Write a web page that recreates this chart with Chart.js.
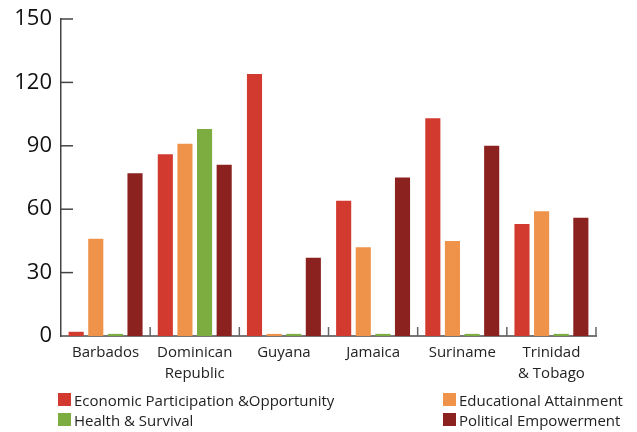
<!DOCTYPE html>
<html>
<head>
<meta charset="utf-8">
<script src="https://cdn.jsdelivr.net/npm/chart.js@4.4.1/dist/chart.umd.min.js"></script>
<style>
  body { margin: 0; background: #fff; }
  #wrap { position: relative; width: 637px; height: 432px; }
  .leg { position: absolute; font: 15px "Open Sans", sans-serif; color: #222; white-space: nowrap; line-height: 14px; }
  .leg span { display: inline-block; width: 13px; height: 13px; vertical-align: top; margin-right: 3px; }
</style>
</head>
<body>
<div id="wrap">
  <canvas id="c" width="637" height="432"></canvas>
</div>
<script>
// chart data
const countries = ["Barbados", ["Dominican", "Republic"], "Guyana", "Jamaica", "Suriname", ["Trinidad", "& Tobago"]];
const economic = [2, 86, 124, 64, 103, 53];
const educational = [46, 91, 1, 42, 45, 59];
const health = [1, 98, 1, 1, 1, 1];
const political = [77, 81, 37, 75, 90, 56];
const yTicks = [0, 30, 60, 90, 120, 150];

const seriesNames = ["Economic Participation &Opportunity", "Educational Attainment", "Health & Survival", "Political Empowerment"];
const colors = ["#d33a2f", "#ef934a", "#7dac41", "#8b221f"];

// little inward tick marks like the original
const innerTicks = {
  id: "innerTicks",
  afterDraw(chart) {
    const ctx = chart.ctx;
    const x = chart.scales.x, y = chart.scales.y;
    const area = chart.chartArea;
    ctx.save();
    ctx.strokeStyle = "#444";
    ctx.lineWidth = 1.5;
    yTicks.slice(1).forEach(v => {
      const py = y.getPixelForValue(v);
      ctx.beginPath();
      ctx.moveTo(area.left, py);
      ctx.lineTo(area.left + 12, py);
      ctx.stroke();
    });
    ctx.strokeStyle = "#666";
    for (let i = 0; i < countries.length; i++) {
      const px = i < countries.length - 1
        ? (x.getPixelForValue(i) + x.getPixelForValue(i + 1)) / 2
        : area.right;
      ctx.beginPath();
      ctx.moveTo(px, area.bottom);
      ctx.lineTo(px, area.bottom - 9);
      ctx.stroke();
    }
    ctx.restore();
  }
};

const datasets = [economic, educational, health, political].map((d, i) => ({
  label: seriesNames[i],
  data: d,
  backgroundColor: colors[i],
  categoryPercentage: 0.88,
  barPercentage: 0.77
}));

new Chart(document.getElementById("c"), {
  type: "bar",
  data: { labels: countries, datasets },
  options: {
    responsive: false,
    animation: false,
    layout: { padding: { top: 19, right: 41, bottom: 36, left: 0 } },
    plugins: { legend: { display: false }, tooltip: { enabled: false } },
    scales: {
      x: {
        grid: { display: false },
        border: { display: true, color: "#777", width: 2 },
        ticks: { color: "#222", font: { family: "Open Sans", size: 15, lineHeight: 1.4 }, padding: -2, maxRotation: 0 },
        afterFit(s) { s.height = 60; }
      },
      y: {
        min: 0, max: 150,
        grid: { display: false },
        border: { display: true, color: "#444", width: 1.5 },
        ticks: {
          stepSize: 30, color: "#111", padding: 1,
          font: { family: "Open Sans", size: 22 },
          callback: v => yTicks.includes(v) ? v : ""
        },
        afterFit(s) { s.width = 61; }
      }
    }
  },
  plugins: [innerTicks]
});

// two-column legend under the chart
const legPos = [[58, 393], [443, 393], [58, 413], [443, 413]];
seriesNames.forEach((name, i) => {
  const el = document.createElement("div");
  el.className = "leg";
  el.style.left = legPos[i][0] + "px";
  el.style.top = legPos[i][1] + "px";
  el.innerHTML = '<span style="background:' + colors[i] + '"></span>' + name;
  document.getElementById("wrap").appendChild(el);
});
</script>
</body>
</html>
